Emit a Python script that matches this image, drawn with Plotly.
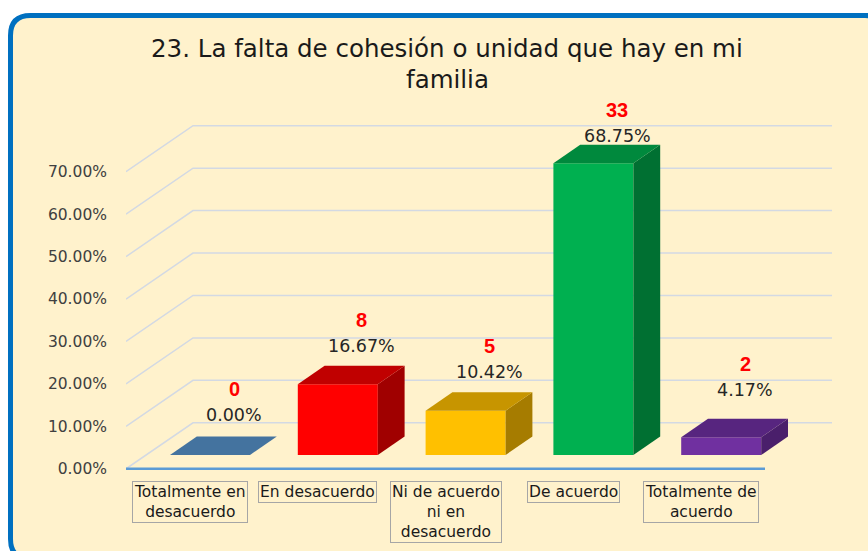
import plotly.graph_objects as go

# ---------------- data ----------------
categories = ["Totalmente en<br>desacuerdo", "En desacuerdo",
              "Ni de acuerdo<br>ni en<br>desacuerdo", "De acuerdo",
              "Totalmente de<br>acuerdo"]
counts = [0, 8, 5, 33, 2]
percents = [0.00, 16.67, 10.42, 68.75, 4.17]
tick_values = [0, 10, 20, 30, 40, 50, 60, 70]
tick_labels = [f"{v:.2f}%" for v in tick_values]
title_lines = ["23. La falta de cohesión o unidad que hay en mi", "familia"]

# ---------------- styles ----------------
front_colors = ["#4F81BD", "#FF0000", "#FFC000", "#00B050", "#7030A0"]
top_colors = ["#44739F", "#C00000", "#C79500", "#00893D", "#57257F"]
side_colors = ["#3A6289", "#A00000", "#A67C00", "#007032", "#4A1F6B"]
label_lift_px = [40, 38, 39, 27, 47]   # label offset above front top of bar
BG = "#FFF2CC"
GRID = "#D3D9E3"

# ---------------- geometry ----------------
W, H = 868, 551
ML, MR, MT, MB = 126, 36, 100, 78
plot_w = W - ML - MR
plot_h = H - MT - MB
depth_px_x, depth_px_y = 67, 46
px_per_cat = (plot_w - depth_px_x) / len(categories)
px_per_unit = 4.243
DX = depth_px_x / px_per_cat          # depth offset in x units
DY = depth_px_y / px_per_unit         # depth offset in y units
F0 = 0.30                             # bar front position within depth
FD = 0.40                             # bar depth fraction
BAR_W = 80 / px_per_cat
x_range = [0, plot_w / px_per_cat]
y_range = [-1, -1 + plot_h / px_per_unit]
n = len(categories)


def px_to_paper_x(px):
    return (px - ML) / plot_w


def px_to_paper_y(py):
    return (H - MB - py) / plot_h


fig = go.Figure()

# front faces as real bars
centers = [i + 0.5 for i in range(n)]
fig.add_trace(go.Bar(
    x=[c + F0 * DX for c in centers], y=percents, base=F0 * DY,
    width=BAR_W, marker=dict(color=front_colors, line=dict(width=0)),
    hoverinfo="skip", showlegend=False))

# top and side faces (computed from the values)
for i, v in enumerate(percents):
    xl = centers[i] + F0 * DX - BAR_W / 2
    xr = xl + BAR_W
    yb = F0 * DY
    yt = yb + v
    ddx, ddy = FD * DX, FD * DY
    if v > 0:
        fig.add_trace(go.Scatter(
            x=[xr, xr, xr + ddx, xr + ddx, xr], y=[yb, yt, yt + ddy, yb + ddy, yb],
            fill="toself", fillcolor=side_colors[i], mode="lines",
            line=dict(width=0, color=side_colors[i]), hoverinfo="skip", showlegend=False))
    fig.add_trace(go.Scatter(
        x=[xl, xr, xr + ddx, xl + ddx, xl], y=[yt, yt, yt + ddy, yt + ddy, yt],
        fill="toself", fillcolor=top_colors[i], mode="lines",
        line=dict(width=0, color=top_colors[i]), hoverinfo="skip", showlegend=False))

# ---------------- shapes ----------------
shapes = []
# rounded chart-area border
L, T, R, B, rad = 10.5, 15.5, 885, 559, 20
X = px_to_paper_x
Y = px_to_paper_y
path = (f"M {X(L)},{Y(T + rad)} Q {X(L)},{Y(T)} {X(L + rad)},{Y(T)} "
        f"L {X(R - rad)},{Y(T)} Q {X(R)},{Y(T)} {X(R)},{Y(T + rad)} "
        f"L {X(R)},{Y(B - rad)} Q {X(R)},{Y(B)} {X(R - rad)},{Y(B)} "
        f"L {X(L + rad)},{Y(B)} Q {X(L)},{Y(B)} {X(L)},{Y(B - rad)} Z")
shapes.append(dict(type="path", xref="paper", yref="paper", path=path,
                   fillcolor=BG, line=dict(color="#0070C0", width=5), layer="below"))
# back-wall gridlines with their diagonal on the side wall
for v in tick_values:
    shapes.append(dict(type="path", xref="x", yref="y", layer="below",
                       path=f"M 0,{v} L {DX},{v + DY} L {n + DX},{v + DY}",
                       line=dict(color=GRID, width=1.5)))
# floor front line
shapes.append(dict(type="line", xref="x", yref="y", x0=0, x1=n, y0=0, y1=0,
                   line=dict(color="#5B9BD5", width=2.5), layer="below"))

# ---------------- annotations ----------------
ann = []
ann.append(dict(text=title_lines[0], xref="paper", yref="paper",
                x=px_to_paper_x(447), y=px_to_paper_y(48.5), showarrow=False,
                xanchor="center", yanchor="middle",
                font=dict(family="DejaVu Sans", size=24.5, color="#1a1a1a")))
ann.append(dict(text=title_lines[1], xref="paper", yref="paper",
                x=px_to_paper_x(447), y=px_to_paper_y(79.5), showarrow=False,
                xanchor="center", yanchor="middle",
                font=dict(family="DejaVu Sans", size=24.5, color="#1a1a1a")))

for i, v in enumerate(percents):
    xl = centers[i] + F0 * DX
    ytop = F0 * DY + v
    ann.append(dict(text=f"{v:.2f}%", x=xl, y=ytop, xref="x", yref="y",
                    xshift=24, yshift=label_lift_px[i], showarrow=False,
                    xanchor="center", yanchor="middle",
                    font=dict(family="DejaVu Sans", size=17.5, color="#262626")))
    ann.append(dict(text=f"<b>{counts[i]}</b>", x=xl, y=ytop, xref="x", yref="y",
                    xshift=24, yshift=label_lift_px[i] + 26, showarrow=False,
                    xanchor="center", yanchor="middle",
                    font=dict(family="Liberation Sans", size=20, color="#FF0000")))

for i, c in enumerate(categories):
    ann.append(dict(text=c, x=centers[i], y=0, xref="x", yref="y",
                    yshift=-12, showarrow=False, xanchor="center",
                    yanchor="top", align="center", bgcolor=BG,
                    borderpad=1, borderwidth=1, bordercolor="#A6A6A6",
                    font=dict(family="DejaVu Sans", size=15.5, color="#1a1a1a")))

fig.update_layout(
    width=W, height=H, autosize=False,
    margin=dict(l=ML, r=MR, t=MT, b=MB, pad=0),
    paper_bgcolor="white", plot_bgcolor="rgba(0,0,0,0)",
    showlegend=False, shapes=shapes, annotations=ann,
    xaxis=dict(range=x_range, visible=False, fixedrange=True),
    yaxis=dict(range=y_range, tickvals=tick_values, ticktext=tick_labels,
               showgrid=False, zeroline=False, showline=False, ticks="",
               ticklabelstandoff=18, fixedrange=True,
               tickfont=dict(family="DejaVu Sans", size=15.5, color="#404040")),
)

fig.write_html("out.html",
               config={"displayModeBar": False, "staticPlot": True},
               post_script="document.body.style.margin='0px';"
                           "document.documentElement.style.overflow='hidden';")
